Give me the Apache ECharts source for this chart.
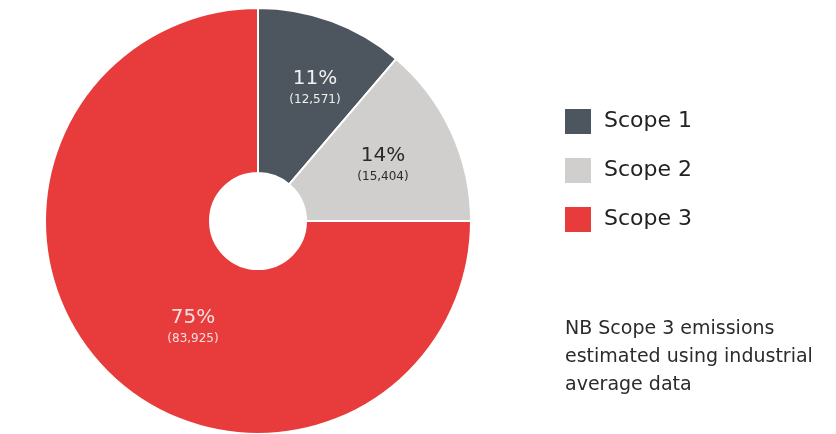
<!DOCTYPE html>
<html><head><meta charset="utf-8">
<script src="https://cdn.jsdelivr.net/npm/echarts@6/dist/echarts.min.js"></script>
<style>html,body{margin:0;padding:0;background:#fff}#c{width:836px;height:434px}</style>
</head><body><div id="c"></div>
<script>
const categories = ['Scope 1', 'Scope 2', 'Scope 3'];
const values = [12571, 15404, 83925];
const percentLabels = ['11%', '14%', '75%'];
const colors = ['#4d555e', '#d0cfcd', '#e83c3c'];
const note = 'NB Scope 3 emissions\nestimated using industrial\naverage data';

const labelPos = [[315, 88], [383, 165], [193, 327]];
const labelColors = ['#f0f0f0', '#2a2a2a', '#f6dede'];
const FONT = 'DejaVu Sans';

const chart = echarts.init(document.getElementById('c'));
chart.setOption({
  animation: false,
  color: colors,
  textStyle: { fontFamily: FONT },
  title: {
    text: note, left: 565, top: 315, padding: 0,
    textStyle: { fontFamily: FONT, fontSize: 19, fontWeight: 'normal', color: '#2b2b2b', lineHeight: 28 }
  },
  legend: {
    orient: 'vertical', left: 563, top: 107, padding: 0,
    itemWidth: 28, itemHeight: 27, itemGap: 20,
    icon: 'rect',
    data: categories,
    textStyle: { fontFamily: FONT, fontSize: 22, color: '#222', padding: [0, 0, 0, 7] }
  },
  series: [{
    type: 'pie',
    center: [258, 221],
    radius: [48, 213],
    startAngle: 90,
    clockwise: true,
    avoidLabelOverlap: false,
    itemStyle: { borderColor: '#fff', borderWidth: 2 },
    label: {
      show: true, position: 'inside',
      formatter: p => '{a|' + percentLabels[p.dataIndex] + '}\n{b|(' + p.value.toLocaleString('en-US') + ')}',
      rich: {
        a: { fontFamily: FONT, fontSize: 20, lineHeight: 24, align: 'center' },
        b: { fontFamily: FONT, fontSize: 12, lineHeight: 18, align: 'center' }
      }
    },
    labelLayout: p => ({ x: labelPos[p.dataIndex][0], y: labelPos[p.dataIndex][1], align: 'center', verticalAlign: 'middle' }),
    emphasis: { disabled: true },
    data: categories.map((n, i) => ({
      name: n, value: values[i],
      label: { color: labelColors[i], rich: { a: { color: labelColors[i] }, b: { color: labelColors[i] } } }
    }))
  }]
});
</script></body></html>
